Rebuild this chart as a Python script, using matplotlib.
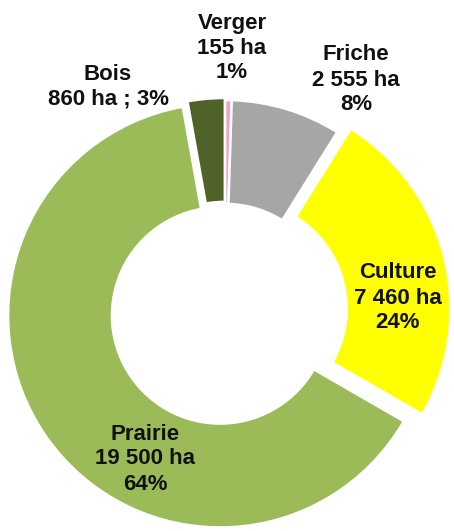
import matplotlib
matplotlib.use('Agg')
import matplotlib.pyplot as plt

# land use, clockwise from the top
categories = ['Verger', 'Friche', 'Culture', 'Prairie', 'Bois']
areas_ha = [155, 2555, 7460, 19500, 860]
area_labels = ['155 ha', '2 555 ha', '7 460 ha', '19 500 ha', '860 ha']
pct_labels = ['1%', '8%', '24%', '64%', '3%']
colors = ['#f4a3c8', '#a6a6a6', '#ffff00', '#9bbb59', '#4f6228']
# offsets in pixels (pie explode is in data units here)
explode = [0, 0, 14, 6, 2]

W, H, dpi = 454, 531, 100
fig = plt.figure(figsize=(W / dpi, H / dpi), dpi=dpi)
ax = fig.add_axes([0, 0, 1, 1])

cx, cy, R = 225, H - 312, 212
ax.pie(areas_ha, colors=colors, startangle=90, counterclock=False,
       explode=explode, center=(cx, cy), radius=R, frame=True,
       wedgeprops=dict(width=R * 0.49, edgecolor='white', linewidth=1.8))
ax.set_xlim(0, W)
ax.set_ylim(0, H)
ax.set_aspect('equal')
ax.axis('off')

# label blocks (x, y in pixels from top-left)
label_pos = {
    'Verger': (232, 48),
    'Friche': (356, 80),
    'Culture': (398, 298),
    'Prairie': (145, 459),
    'Bois': (108, 87),
}
txt = dict(ha='center', va='center', fontsize=16, fontweight='bold',
           family='Liberation Sans', color='#111111', linespacing=1.25)
for i, name in enumerate(categories):
    x, y = label_pos[name]
    if name == 'Bois':
        s = f"{name}\n{area_labels[i]} ; {pct_labels[i]}"
    else:
        s = f"{name}\n{area_labels[i]}\n{pct_labels[i]}"
    ax.text(x, H - y, s, **txt)

fig.savefig('out.png', dpi=dpi, facecolor='white')
